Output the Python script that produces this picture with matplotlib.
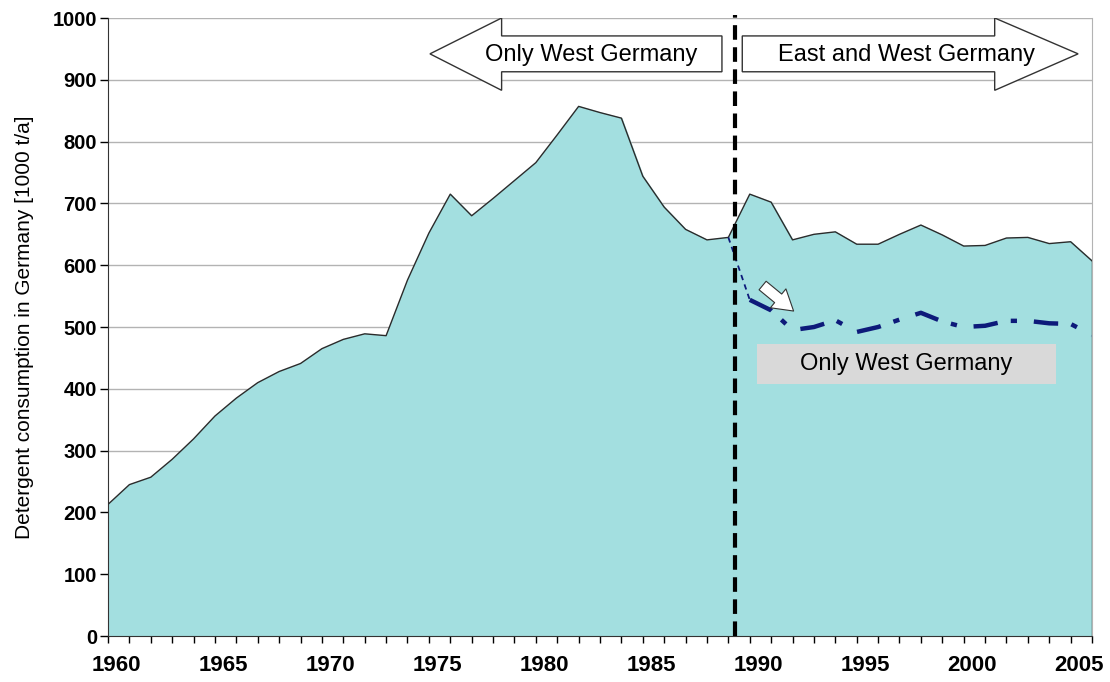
import numpy as np
import matplotlib.pyplot as plt
from matplotlib.patches import Polygon, Rectangle, FancyArrowPatch

plt.rcParams['font.family'] = ['Liberation Sans', 'DejaVu Sans']

# Detergent consumption, 1000 t/a (West Germany until 1989, unified Germany afterwards)
years = np.arange(1960, 2007)
consumption = [213, 245, 257, 286, 319, 356, 385, 410, 428, 441,
               465, 480, 489, 486, 576, 652, 715, 680, 708, 737,
               766, 811, 857, 847, 838, 744, 694, 658, 641, 645,
               715, 702, 641, 650, 654, 634, 634, 650, 665, 649,
               631, 632, 644, 645, 635, 638, 607]

# West Germany only, after reunification
west_years = np.arange(1989, 2007)
west_only = [645, 544, 527, 495, 500, 511, 492, 500, 512, 523,
             509, 500, 502, 510, 510, 506, 505, 487]

label_years = [1960, 1965, 1970, 1975, 1980, 1985, 1990, 1995, 2000, 2005]
reunification = 1989.3

fig = plt.figure(figsize=(11.1, 6.82), dpi=100)
ax = fig.add_axes([0.0973, 0.0674, 0.8865, 0.9062])

# main area
ax.fill_between(years, consumption, 0, color='#a3dfe0', zorder=2)
ax.plot(years, consumption, color='#2b2b2b', lw=1.0, zorder=3)
ax.plot([years[-1], years[-1]], [0, consumption[-1]], color='#2b2b2b', lw=1.0, zorder=3)

# West Germany series: thin dashes into 1990, dash-dot afterwards
ax.plot(west_years[:2], west_only[:2], color='#0d1a7a', lw=1.3,
        dashes=(3, 2.5), zorder=4)
ax.plot(west_years[1:], west_only[1:], color='#0d1a7a', lw=3.2,
        dashes=(5.5, 3.0, 1.4, 3.8), zorder=4)

# reunification marker
ax.plot([reunification, reunification], [0, 1005], color='black', lw=3,
        dashes=(3.5, 1.8), zorder=5, clip_on=False)

# small white arrow pointing at the West Germany curve
arr = FancyArrowPatch((1990.5, 570), (1992.15, 523),
                      arrowstyle='simple,head_width=1.1,head_length=0.9,tail_width=0.5',
                      mutation_scale=16, fc='white', ec='#333333', lw=0.8, zorder=6)
ax.add_patch(arr)

# grey label box
ax.add_patch(Rectangle((1990.35, 408), 13.95, 64, fc='#d9d9d9', ec='none', zorder=5))
ax.text(1997.3, 440, 'Only West Germany', ha='center', va='center',
        fontsize=17, zorder=6)

# block arrows at the top
left_arrow = Polygon([(1975.05, 942), (1978.4, 1000), (1978.4, 971), (1988.7, 971),
                      (1988.7, 913), (1978.4, 913), (1978.4, 883)],
                     closed=True, fc='white', ec='#333333', lw=1.0, zorder=6)
right_arrow = Polygon([(2005.35, 942), (2001.45, 1000), (2001.45, 971), (1989.65, 971),
                       (1989.65, 913), (2001.45, 913), (2001.45, 883)],
                      closed=True, fc='white', ec='#333333', lw=1.0, zorder=6)
ax.add_patch(left_arrow)
ax.add_patch(right_arrow)
ax.text(1982.6, 940, 'Only West Germany', ha='center', va='center',
        fontsize=17, zorder=7)
ax.text(1997.35, 940, 'East and West Germany', ha='center', va='center',
        fontsize=17, zorder=7)

ax.set_xlim(1960, 2006)
ax.set_ylim(0, 1000)

ax.set_yticks(np.arange(0, 1001, 100))
ax.set_yticklabels([str(v) for v in range(0, 1001, 100)], fontsize=14.5, fontweight='bold')
ax.yaxis.grid(True, color='#b3b3b3', lw=1.0, zorder=0)
ax.set_axisbelow(True)

ax.set_xticks(years, minor=True)
ax.set_xticks([y + 0.4 for y in label_years])
ax.set_xticklabels([str(y) for y in label_years], fontsize=16, fontweight='bold')
ax.tick_params(axis='x', which='major', length=0, pad=14)
ax.tick_params(axis='x', which='minor', length=5, width=1, direction='out')
ax.tick_params(axis='y', length=6, width=1, direction='out', pad=2)

ax.set_ylabel('Detergent consumption in Germany [1000 t/a]', fontsize=15, labelpad=13)

ax.spines['top'].set_visible(False)
ax.spines['right'].set_color('#b3b3b3')
ax.spines['left'].set_color('#333333')
ax.spines['bottom'].set_color('#333333')

fig.savefig('out.png', dpi=100)
